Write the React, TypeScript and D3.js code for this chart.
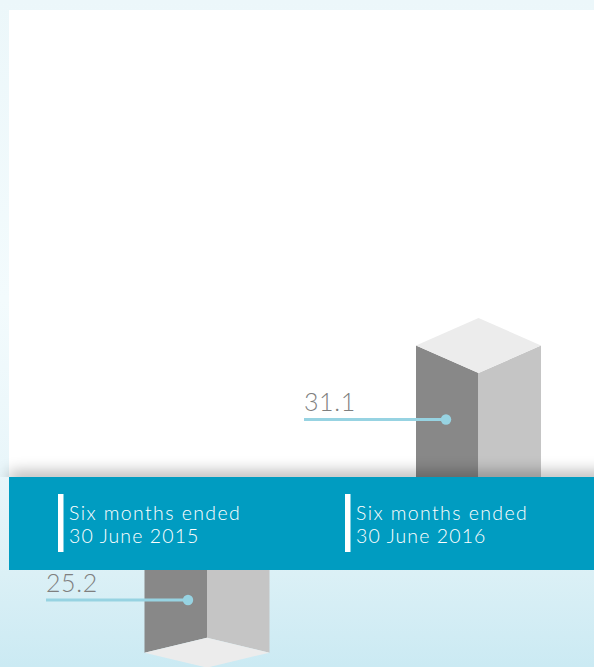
import React from "react";
import * as d3 from "d3";

const WIDTH = 594;
const HEIGHT = 667;

const periods = ["Six months ended", "Six months ended"];
const periodDates = ["30 June 2015", "30 June 2016"];
const values = [25.2, 31.1];

const panel = { left: 9, top: 10, bottom: 477 };
const band = { top: 477, bottom: 570 };
const FONT = "Lato, 'Open Sans', sans-serif";

// Value to column height in pixels, shared by both columns.
const heightScale = d3.scaleLinear().domain([0, 31.1]).range([0, 197]);

// Horizontal placement of each period slot.
const slotX = d3.scaleOrdinal<number, number>().domain([0, 1]).range([46, 304]);
const captionX = d3.scaleOrdinal<number, number>().domain([0, 1]).range([58, 345]);

const polygon = d3.line<[number, number]>().curve(d3.curveLinearClosed);

const DARK = "#888888";
const LIGHT = "#c5c5c5";
const CAP = "#ececec";
const ACCENT = "#97d3e2";

// One isometric column. Its front edge runs from edgeTop to edgeBottom; a column
// that hangs below the band shows its end cap underneath, the other shows it on top.
function Column({ x, edgeTop, edgeBottom, capAtBottom }: { x: number; edgeTop: number; edgeBottom: number; capAtBottom: boolean }) {
  const halfW = 62.5;
  const rise = capAtBottom ? 15 : 27.5;
  const l = x - halfW;
  const r = x + halfW;
  const leftFace: [number, number][] = capAtBottom
    ? [[l, edgeTop], [x, edgeTop], [x, edgeBottom], [l, edgeBottom + rise]]
    : [[l, edgeTop - rise], [x, edgeTop], [x, edgeBottom], [l, edgeBottom]];
  const rightFace: [number, number][] = capAtBottom
    ? [[x, edgeTop], [r, edgeTop], [r, edgeBottom + rise], [x, edgeBottom]]
    : [[x, edgeTop], [r, edgeTop - rise], [r, edgeBottom], [x, edgeBottom]];
  const capFace: [number, number][] = capAtBottom
    ? [[x, edgeBottom], [r, edgeBottom + rise], [x, edgeBottom + rise * 2], [l, edgeBottom + rise]]
    : [[x, edgeTop], [r, edgeTop - rise], [x, edgeTop - rise * 2], [l, edgeTop - rise]];
  return (
    <g>
      <path d={polygon(leftFace) ?? ""} fill={DARK} />
      <path d={polygon(rightFace) ?? ""} fill={LIGHT} />
      <path d={polygon(capFace) ?? ""} fill={CAP} />
    </g>
  );
}

// Leader line with its value label above and a round end on the column.
function Leader({ x, y, label }: { x: number; y: number; label: string }) {
  return (
    <g>
      <text x={x} y={y - 8.5} fontFamily={FONT} fontWeight={300} fontSize={25} letterSpacing={0.6} fill="#7f7f7f">
        {label}
      </text>
      <line x1={x} x2={x + 142} y1={y} y2={y} stroke={ACCENT} strokeWidth={3} />
      <circle cx={x + 142} cy={y} r={5.2} fill={ACCENT} />
    </g>
  );
}

export default function App() {
  const columns = [
    { x: 207, edgeTop: band.top + 1, edgeBottom: band.top + 1 + heightScale(values[0]), capAtBottom: true, leaderY: 600 },
    { x: 478.5, edgeTop: band.bottom - heightScale(values[1]), edgeBottom: band.bottom, capAtBottom: false, leaderY: 419.5 },
  ];
  return (
    <svg
      width={WIDTH}
      height={HEIGHT}
      viewBox={`0 0 ${WIDTH} ${HEIGHT}`}
      style={{ position: "absolute", left: 0, top: 0, display: "block" }}
    >
      <defs>
        <linearGradient id="page" x1="0" x2="0" y1="0" y2="1">
          <stop offset="0" stopColor="#ecf7fa" />
          <stop offset="0.45" stopColor="#f3fbfd" />
          <stop offset="0.7" stopColor="#e9f6fa" />
          <stop offset="0.86" stopColor="#dbf0f6" />
          <stop offset="1" stopColor="#cbeaf3" />
        </linearGradient>
        <filter id="soft" x="-10%" y="-400%" width="120%" height="900%">
          <feGaussianBlur stdDeviation="8" />
        </filter>
        <clipPath id="above">
          <rect x={0} y={0} width={WIDTH} height={band.top} />
        </clipPath>
      </defs>

      <rect width={WIDTH} height={HEIGHT} fill="url(#page)" />
      <rect x={panel.left} y={panel.top} width={WIDTH - panel.left} height={panel.bottom - panel.top} fill="#ffffff" />

      {columns.map((c, i) => (
        <Column key={i} x={c.x} edgeTop={c.edgeTop} edgeBottom={c.edgeBottom} capAtBottom={c.capAtBottom} />
      ))}
      {values.map((v, i) => (
        <Leader key={i} x={slotX(i)} y={columns[i].leaderY} label={v.toFixed(1)} />
      ))}

      <g clipPath="url(#above)">
        <rect x={panel.left} y={band.top - 4} width={WIDTH + 30} height={12} fill="#000000" opacity={0.36} filter="url(#soft)" />
      </g>

      <rect x={panel.left} y={band.top} width={WIDTH - panel.left} height={band.bottom - band.top} fill="#009cc1" />
      {periods.map((p, i) => (
        <g key={i}>
          <rect x={captionX(i)} y={494} width={5.5} height={58} fill="#ffffff" />
          <text x={captionX(i) + 11} y={520} fontFamily={FONT} fontWeight={300} fontSize={19.5} letterSpacing={1.4} fill="#ffffff">
            {p}
          </text>
          <text x={captionX(i) + 11} y={543} fontFamily={FONT} fontWeight={300} fontSize={19.5} letterSpacing={1.1} fill="#ffffff">
            {periodDates[i]}
          </text>
        </g>
      ))}
    </svg>
  );
}
